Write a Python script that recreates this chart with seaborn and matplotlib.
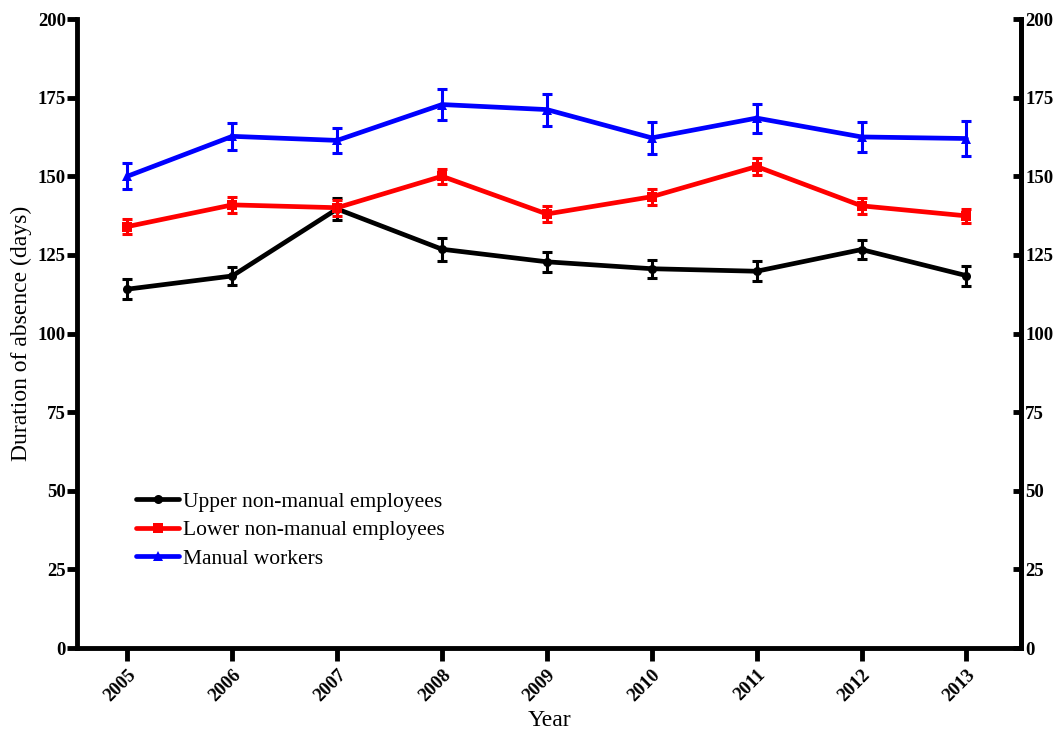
import numpy as np
import pandas as pd
import matplotlib
matplotlib.use("Agg")
import matplotlib.pyplot as plt
import seaborn as sns

# Data
years = [2005, 2006, 2007, 2008, 2009, 2010, 2011, 2012, 2013]
series_names = ["Upper non-manual employees", "Lower non-manual employees", "Manual workers"]
upper_mean = [114.1, 118.3, 139.6, 126.8, 122.8, 120.6, 119.8, 126.7, 118.4]
upper_err = [3.1, 3.0, 3.4, 3.6, 3.1, 2.9, 3.2, 3.1, 3.2]
lower_mean = [134.0, 140.9, 140.0, 150.0, 138.0, 143.5, 153.1, 140.6, 137.4]
lower_err = [2.5, 2.5, 2.5, 2.4, 2.5, 2.6, 2.6, 2.5, 2.3]
manual_mean = [150.0, 162.7, 161.4, 172.8, 171.2, 162.2, 168.5, 162.5, 162.0]
manual_err = [4.1, 4.2, 4.0, 4.8, 5.1, 5.1, 4.6, 4.7, 5.6]

colors = ["#000000", "#ff0000", "#0000ff"]
markers = ["o", "s", "^"]

sns.set_theme(style="ticks")
plt.rcParams['font.family'] = ['Liberation Serif', 'DejaVu Serif']
plt.rcParams['axes.edgecolor'] = 'black'
plt.rcParams['xtick.color'] = 'black'
plt.rcParams['ytick.color'] = 'black'
plt.rcParams['text.color'] = 'black'
plt.rcParams['axes.labelcolor'] = 'black'

df = pd.DataFrame({
    "Year": years * 3,
    "Duration": upper_mean + lower_mean + manual_mean,
    "Err": upper_err + lower_err + manual_err,
    "Group": [n for n in series_names for _ in years],
})

fig = plt.figure(figsize=(10.58, 7.31), dpi=100)
ax = fig.add_axes([0.0728, 0.1135, 0.8922, 0.8605])

sns.lineplot(data=df, x="Year", y="Duration", hue="Group", style="Group",
             palette=colors, markers=markers, dashes=False, linewidth=3.4,
             markersize=6.5, markeredgewidth=0, ax=ax, legend=True)

# error bars (SE) on top of the seaborn lines
for name, c in zip(series_names, colors):
    sub = df[df["Group"] == name]
    ax.errorbar(sub["Year"], sub["Duration"], yerr=sub["Err"], fmt="none",
                ecolor=c, elinewidth=2.2, capsize=3.6, capthick=2.2)

ax.set_xlim(2004.52, 2013.52)
ax.set_ylim(0, 200)
ax.set_yticks(range(0, 201, 25))
ax.set_xticks(years)
ax.set_xticklabels([str(y) for y in years], rotation=45, ha="right",
                   rotation_mode="anchor", fontweight="bold", fontsize=13.5)
for lab in ax.get_yticklabels():
    lab.set_fontweight("bold")
    lab.set_fontsize(13.5)

for side in ["left", "bottom", "right"]:
    ax.spines[side].set_linewidth(3.5)
ax.spines["top"].set_visible(False)
ax.tick_params(axis="y", direction="out", length=7, width=3.5, pad=1)
ax.tick_params(axis="x", direction="out", length=9, width=3.5, pad=4)

# mirrored axis on the right, ticks pointing inward
ax2 = ax.twinx()
ax2.set_ylim(0, 200)
ax2.set_yticks(range(0, 201, 25))
ax2.tick_params(axis="y", direction="in", length=6, width=3.5, pad=3)
for lab in ax2.get_yticklabels():
    lab.set_fontweight("bold")
    lab.set_fontsize(13.5)
for side in ["left", "bottom", "top"]:
    ax2.spines[side].set_visible(False)
ax2.spines["right"].set_linewidth(3.5)

ax.set_xlabel("Year", fontsize=17, labelpad=4)
ax.set_ylabel("Duration of absence (days)", fontsize=17, labelpad=4)

leg = ax.legend(title=None, loc="lower left", bbox_to_anchor=(0.042, 0.095),
                frameon=False, fontsize=15.5, handlelength=2.0, handletextpad=0.2,
                labelspacing=0.4)
for h in leg.legend_handles:
    h.set_linewidth(3.4)

fig.savefig("out.png", dpi=100)
